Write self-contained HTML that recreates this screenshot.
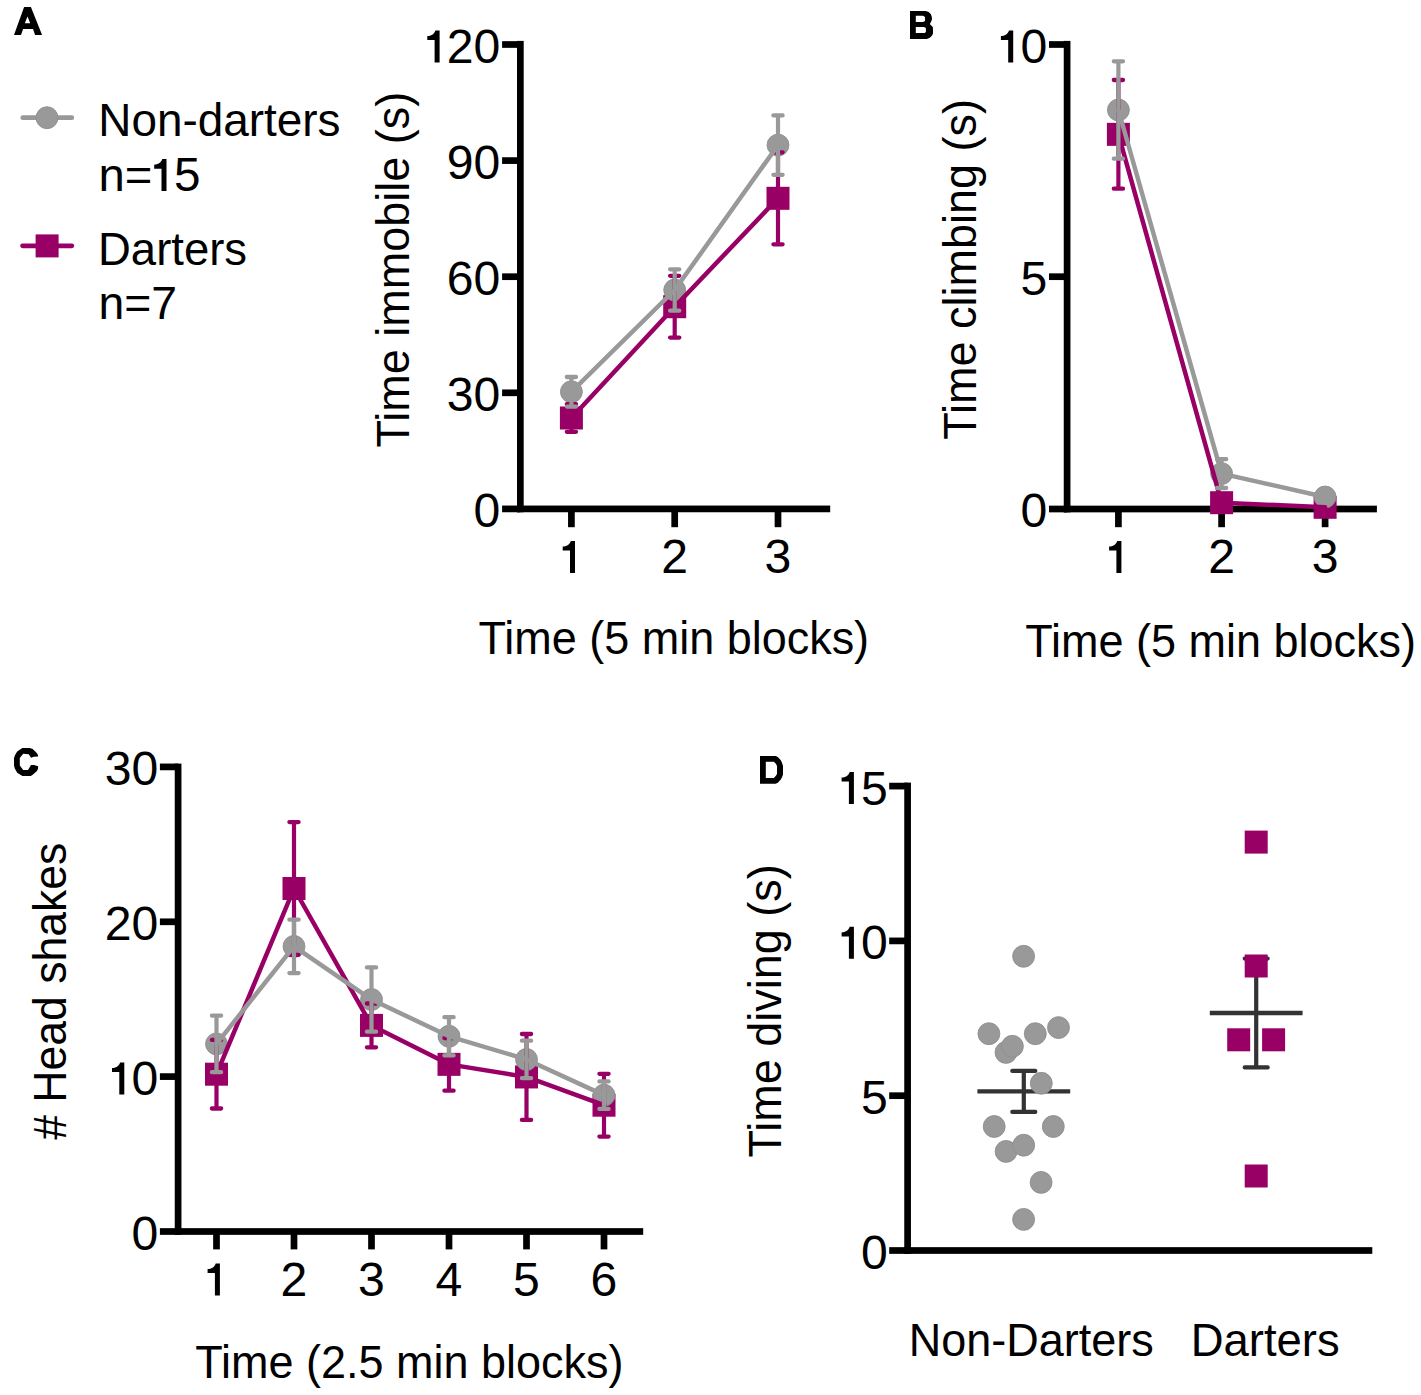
<!DOCTYPE html>
<html><head><meta charset="utf-8"><style>
html,body{margin:0;padding:0;background:#fff;}
svg{display:block;}
text{font-family:"Liberation Sans",sans-serif;fill:#000;}
</style></head><body>
<svg width="1421" height="1395" viewBox="0 0 1421 1395" font-family="Liberation Sans, sans-serif">
<rect width="1421" height="1395" fill="#fff"/>
<rect x="517" y="40.9" width="6.7" height="471.35" fill="#000"/>
<rect x="517" y="505.55" width="313.2" height="6.7" fill="#000"/>
<rect x="502.1" y="41.15" width="18.25" height="6.7" fill="#000"/>
<rect x="502.1" y="157.25" width="18.25" height="6.7" fill="#000"/>
<rect x="502.1" y="273.35" width="18.25" height="6.7" fill="#000"/>
<rect x="502.1" y="389.45" width="18.25" height="6.7" fill="#000"/>
<rect x="502.1" y="505.55" width="18.25" height="6.7" fill="#000"/>
<rect x="568.05" y="508.9" width="6.7" height="18.3" fill="#000"/>
<rect x="671.35" y="508.9" width="6.7" height="18.3" fill="#000"/>
<rect x="774.65" y="508.9" width="6.7" height="18.3" fill="#000"/>
<text transform="translate(500.3,62.9) scale(1.07,1.05)" font-size="45" text-anchor="end">20</text>
<text transform="translate(500.3,179) scale(1.07,1.05)" font-size="45" text-anchor="end">90</text>
<text transform="translate(500.3,295.1) scale(1.07,1.05)" font-size="45" text-anchor="end">60</text>
<text transform="translate(500.3,411.2) scale(1.07,1.05)" font-size="45" text-anchor="end">30</text>
<text transform="translate(500.3,527.3) scale(1.07,1.05)" font-size="45" text-anchor="end">0</text>
<path transform="translate(434.6,30.4)" d="M0.8,0H5V32H0V9.6H-7.3V5.6C-3.5,5.4 -0.6,4 0.8,0Z"/>
<path transform="translate(570,540.9)" d="M0.8,0H5V32H0V9.6H-7.3V5.6C-3.5,5.4 -0.6,4 0.8,0Z"/>
<text transform="translate(674.7,572.9) scale(1.07,1.05)" font-size="45" text-anchor="middle">2</text>
<text transform="translate(778,572.9) scale(1.07,1.05)" font-size="45" text-anchor="middle">3</text>
<text transform="translate(478.41,654.3) scale(1,1.03)" font-size="45">Time (5 min blocks)</text>
<text transform="translate(408.5,447.49) rotate(-90) scale(1,1.03)" font-size="45">Time immobile (s)</text>
<rect x="1063.75" y="40.9" width="6.7" height="471.45" fill="#000"/>
<rect x="1063.75" y="505.65" width="313.15" height="6.7" fill="#000"/>
<rect x="1049" y="41.15" width="18.1" height="6.7" fill="#000"/>
<rect x="1049" y="273.35" width="18.1" height="6.7" fill="#000"/>
<rect x="1049" y="505.65" width="18.1" height="6.7" fill="#000"/>
<rect x="1115.05" y="509" width="6.7" height="18.2" fill="#000"/>
<rect x="1218.25" y="509" width="6.7" height="18.2" fill="#000"/>
<rect x="1321.75" y="509" width="6.7" height="18.2" fill="#000"/>
<text transform="translate(1047.2,62.9) scale(1.07,1.05)" font-size="45" text-anchor="end">0</text>
<text transform="translate(1047.2,295.1) scale(1.07,1.05)" font-size="45" text-anchor="end">5</text>
<text transform="translate(1047.2,527.4) scale(1.07,1.05)" font-size="45" text-anchor="end">0</text>
<path transform="translate(1008.2,30.4)" d="M0.8,0H5V32H0V9.6H-7.3V5.6C-3.5,5.4 -0.6,4 0.8,0Z"/>
<path transform="translate(1116.4,541)" d="M0.8,0H5V32H0V9.6H-7.3V5.6C-3.5,5.4 -0.6,4 0.8,0Z"/>
<text transform="translate(1221.6,573) scale(1.07,1.05)" font-size="45" text-anchor="middle">2</text>
<text transform="translate(1325.1,573) scale(1.07,1.05)" font-size="45" text-anchor="middle">3</text>
<text transform="translate(1025.31,656.7) scale(1,1.03)" font-size="45">Time (5 min blocks)</text>
<text transform="translate(976.3,439.79) rotate(-90) scale(1,1.03)" font-size="45">Time climbing (s)</text>
<rect x="174.75" y="763.6" width="6.7" height="471.25" fill="#000"/>
<rect x="174.75" y="1228.15" width="468.45" height="6.7" fill="#000"/>
<rect x="159.9" y="763.55" width="18.2" height="6.7" fill="#000"/>
<rect x="159.9" y="918.45" width="18.2" height="6.7" fill="#000"/>
<rect x="159.9" y="1073.25" width="18.2" height="6.7" fill="#000"/>
<rect x="159.9" y="1228.15" width="18.2" height="6.7" fill="#000"/>
<rect x="213.15" y="1231.5" width="6.7" height="17.9" fill="#000"/>
<rect x="290.65" y="1231.5" width="6.7" height="17.9" fill="#000"/>
<rect x="368.15" y="1231.5" width="6.7" height="17.9" fill="#000"/>
<rect x="445.65" y="1231.5" width="6.7" height="17.9" fill="#000"/>
<rect x="523.15" y="1231.5" width="6.7" height="17.9" fill="#000"/>
<rect x="600.65" y="1231.5" width="6.7" height="17.9" fill="#000"/>
<text transform="translate(158.2,785.3) scale(1.07,1.05)" font-size="45" text-anchor="end">30</text>
<text transform="translate(158.2,940.2) scale(1.07,1.05)" font-size="45" text-anchor="end">20</text>
<text transform="translate(158.2,1095) scale(1.07,1.05)" font-size="45" text-anchor="end">0</text>
<text transform="translate(158.2,1249.9) scale(1.07,1.05)" font-size="45" text-anchor="end">0</text>
<path transform="translate(119.3,1062.5)" d="M0.8,0H5V32H0V9.6H-7.3V5.6C-3.5,5.4 -0.6,4 0.8,0Z"/>
<path transform="translate(214.9,1263.5)" d="M0.8,0H5V32H0V9.6H-7.3V5.6C-3.5,5.4 -0.6,4 0.8,0Z"/>
<text transform="translate(294,1295.5) scale(1.07,1.05)" font-size="45" text-anchor="middle">2</text>
<text transform="translate(371.5,1295.5) scale(1.07,1.05)" font-size="45" text-anchor="middle">3</text>
<text transform="translate(449,1295.5) scale(1.07,1.05)" font-size="45" text-anchor="middle">4</text>
<text transform="translate(526.5,1295.5) scale(1.07,1.05)" font-size="45" text-anchor="middle">5</text>
<text transform="translate(604,1295.5) scale(1.07,1.05)" font-size="45" text-anchor="middle">6</text>
<text transform="translate(195.31,1378.4) scale(1,1.03)" font-size="45">Time (2.5 min blocks)</text>
<text transform="translate(65.8,1139.78) rotate(-90) scale(0.99,1.03)" font-size="45"># Head shakes</text>
<rect x="904.25" y="782.6" width="6.7" height="471.25" fill="#000"/>
<rect x="904.25" y="1247.15" width="468.05" height="6.7" fill="#000"/>
<rect x="889.2" y="782.75" width="18.4" height="6.7" fill="#000"/>
<rect x="889.2" y="937.55" width="18.4" height="6.7" fill="#000"/>
<rect x="889.2" y="1092.35" width="18.4" height="6.7" fill="#000"/>
<rect x="889.2" y="1247.15" width="18.4" height="6.7" fill="#000"/>
<text transform="translate(887.9,804.5) scale(1.07,1.05)" font-size="45" text-anchor="end">5</text>
<text transform="translate(887.9,959.3) scale(1.07,1.05)" font-size="45" text-anchor="end">0</text>
<text transform="translate(887.9,1114.1) scale(1.07,1.05)" font-size="45" text-anchor="end">5</text>
<text transform="translate(887.9,1268.9) scale(1.07,1.05)" font-size="45" text-anchor="end">0</text>
<path transform="translate(848.9,772)" d="M0.8,0H5V32H0V9.6H-7.3V5.6C-3.5,5.4 -0.6,4 0.8,0Z"/>
<path transform="translate(848.9,926.8)" d="M0.8,0H5V32H0V9.6H-7.3V5.6C-3.5,5.4 -0.6,4 0.8,0Z"/>
<text transform="translate(908.79,1355.9) scale(1,1.03)" font-size="45">Non-Darters</text>
<text transform="translate(1190.68,1355.8) scale(1.01,1.03)" font-size="45">Darters</text>
<text transform="translate(781.2,1157.49) rotate(-90) scale(1,1.03)" font-size="45">Time diving (s)</text>
<path d="M22.75,117.7H71.85" stroke="#999999" stroke-width="4.7" stroke-linecap="round"/>
<circle cx="47" cy="117.7" r="10.95" fill="#999999" stroke="#8e8e8e" stroke-width="0.9"/>
<path d="M22.55,245.8H71.85" stroke="#990066" stroke-width="4.7" stroke-linecap="round"/>
<rect x="35.6" y="234.4" width="23" height="23" fill="#990066"/>
<text transform="translate(98.25,136.4) scale(1.02,1.03)" font-size="45">Non-darters</text>
<text transform="translate(98.58,191.2) scale(1.05,1.03)" font-size="45">n=</text>
<path transform="translate(161.5,159.1)" d="M0.8,0H5V32H0V9.6H-7.3V5.6C-3.5,5.4 -0.6,4 0.8,0Z"/>
<text transform="translate(174.09,191.2) scale(1.06,1.05)" font-size="45">5</text>
<text transform="translate(98.06,264.9) scale(1.01,1.03)" font-size="45">Darters</text>
<text transform="translate(98.45,318.9) scale(1.03,1.03)" font-size="45">n=7</text>
<path fill-rule="evenodd" d="M24.1,7H30.9L42.1,35H35.1L33,29.1H23.1L21,35H14ZM27.5,16.6L24.8,23.2H30.2Z"/>
<path fill-rule="evenodd" d="M910,11H925.7L928.7,12L930.9,14.2L931.9,17.2V19.8L930.6,22.8L929.8,24.1L932.8,27.1L933,30V33.5L931.9,35.7L929.8,37.8L926.8,38.9H910Z M915.8,15.8H922.9L925.05,17V21.1L922.9,21.9H915.8Z M915.8,26.9H924L925.9,28V32L924.8,33H915.8Z"/>
<path d="M22.4,748H29.7L32.7,749L37,753.3L38.1,755.5V756.6L33.8,756.8L31,757.8L28.8,754.2L23.2,753.8L19.8,758.1V765.4L23.2,769.9H28L31,764.9H34L38.1,766.2V768.4L37,771L32.7,774.8L30.8,775.9H22.4L17.2,772.7L14.8,768.4L14,765.4V758.1L15.1,755.1L17.2,751.4Z"/>
<path fill-rule="evenodd" d="M760,756H775.7L777.8,757.1L780.6,760.1L781.9,762.5L783,765.9V774.5L781.9,777.5L780.6,779.7L777.8,782.7L775.7,783.8H760Z M765.8,761.8H773.8L775.9,763.8L777,765.9V773.9L775.9,775.8L773.8,778H765.8Z"/>
<rect x="559.9" y="406.5" width="23" height="23" fill="#990066"/>
<rect x="663.2" y="295.2" width="23" height="23" fill="#990066"/>
<rect x="766.5" y="186.8" width="23" height="23" fill="#990066"/>
<circle cx="571.4" cy="391.8" r="10.95" fill="#999999" stroke="#8e8e8e" stroke-width="0.9"/>
<circle cx="674.7" cy="290" r="10.95" fill="#999999" stroke="#8e8e8e" stroke-width="0.9"/>
<circle cx="778" cy="145.1" r="10.95" fill="#999999" stroke="#8e8e8e" stroke-width="0.9"/>
<polyline points="571.4,418 674.7,306.7 778,198.3" fill="none" stroke="#990066" stroke-width="4.5" stroke-linejoin="round" stroke-linecap="round"/>
<path d="M571.4,404.2V431.8" stroke="#990066" stroke-width="4.2" fill="none"/>
<path d="M566.8,404.2H576M566.8,431.8H576" stroke="#990066" stroke-width="4.3" stroke-linecap="round" fill="none"/>
<path d="M674.7,275.8V337.6" stroke="#990066" stroke-width="4.2" fill="none"/>
<path d="M670.1,275.8H679.3M670.1,337.6H679.3" stroke="#990066" stroke-width="4.3" stroke-linecap="round" fill="none"/>
<path d="M778,152.3V244.3" stroke="#990066" stroke-width="4.2" fill="none"/>
<path d="M773.4,152.3H782.6M773.4,244.3H782.6" stroke="#990066" stroke-width="4.3" stroke-linecap="round" fill="none"/>
<polyline points="571.4,391.8 674.7,290 778,145.1" fill="none" stroke="#999999" stroke-width="4.5" stroke-linejoin="round" stroke-linecap="round"/>
<path d="M571.4,377V406.6" stroke="#999999" stroke-width="4.2" fill="none"/>
<path d="M566.8,377H576M566.8,406.6H576" stroke="#999999" stroke-width="4.3" stroke-linecap="round" fill="none"/>
<path d="M674.7,269.3V310.7" stroke="#999999" stroke-width="4.2" fill="none"/>
<path d="M670.1,269.3H679.3M670.1,310.7H679.3" stroke="#999999" stroke-width="4.3" stroke-linecap="round" fill="none"/>
<path d="M778,115.4V174.8" stroke="#999999" stroke-width="4.2" fill="none"/>
<path d="M773.4,115.4H782.6M773.4,174.8H782.6" stroke="#999999" stroke-width="4.3" stroke-linecap="round" fill="none"/>
<rect x="1106.9" y="122.85" width="23" height="23" fill="#990066"/>
<rect x="1210.1" y="491.2" width="23" height="23" fill="#990066"/>
<rect x="1313.6" y="495.8" width="23" height="23" fill="#990066"/>
<circle cx="1118.4" cy="110" r="10.95" fill="#999999" stroke="#8e8e8e" stroke-width="0.9"/>
<circle cx="1221.6" cy="473.6" r="10.95" fill="#999999" stroke="#8e8e8e" stroke-width="0.9"/>
<circle cx="1325.1" cy="497" r="10.95" fill="#999999" stroke="#8e8e8e" stroke-width="0.9"/>
<polyline points="1118.4,134.35 1221.6,502.7 1325.1,507.3" fill="none" stroke="#990066" stroke-width="4.5" stroke-linejoin="round" stroke-linecap="round"/>
<path d="M1118.4,80V188.7" stroke="#990066" stroke-width="4.2" fill="none"/>
<path d="M1113.8,80H1123M1113.8,188.7H1123" stroke="#990066" stroke-width="4.3" stroke-linecap="round" fill="none"/>
<polyline points="1118.4,110 1221.6,473.6 1325.1,497" fill="none" stroke="#999999" stroke-width="4.5" stroke-linejoin="round" stroke-linecap="round"/>
<path d="M1118.4,61.3V158.7" stroke="#999999" stroke-width="4.2" fill="none"/>
<path d="M1113.8,61.3H1123M1113.8,158.7H1123" stroke="#999999" stroke-width="4.3" stroke-linecap="round" fill="none"/>
<path d="M1221.6,459.2V488" stroke="#999999" stroke-width="4.2" fill="none"/>
<path d="M1217,459.2H1226.2M1217,488H1226.2" stroke="#999999" stroke-width="4.3" stroke-linecap="round" fill="none"/>
<rect x="205" y="1062.7" width="23" height="23" fill="#990066"/>
<rect x="282.5" y="877" width="23" height="23" fill="#990066"/>
<rect x="360" y="1013.9" width="23" height="23" fill="#990066"/>
<rect x="437.5" y="1052.85" width="23" height="23" fill="#990066"/>
<rect x="515" y="1065.45" width="23" height="23" fill="#990066"/>
<rect x="592.5" y="1093.7" width="23" height="23" fill="#990066"/>
<circle cx="216.5" cy="1043.9" r="10.95" fill="#999999" stroke="#8e8e8e" stroke-width="0.9"/>
<circle cx="294" cy="946.4" r="10.95" fill="#999999" stroke="#8e8e8e" stroke-width="0.9"/>
<circle cx="371.5" cy="999.55" r="10.95" fill="#999999" stroke="#8e8e8e" stroke-width="0.9"/>
<circle cx="449" cy="1036.3" r="10.95" fill="#999999" stroke="#8e8e8e" stroke-width="0.9"/>
<circle cx="526.5" cy="1059.45" r="10.95" fill="#999999" stroke="#8e8e8e" stroke-width="0.9"/>
<circle cx="604" cy="1095.15" r="10.95" fill="#999999" stroke="#8e8e8e" stroke-width="0.9"/>
<polyline points="216.5,1074.2 294,888.5 371.5,1025.4 449,1064.35 526.5,1076.95 604,1105.2" fill="none" stroke="#990066" stroke-width="4.5" stroke-linejoin="round" stroke-linecap="round"/>
<path d="M216.5,1039.9V1108.5" stroke="#990066" stroke-width="4.2" fill="none"/>
<path d="M211.9,1039.9H221.1M211.9,1108.5H221.1" stroke="#990066" stroke-width="4.3" stroke-linecap="round" fill="none"/>
<path d="M294,822.1V954.9" stroke="#990066" stroke-width="4.2" fill="none"/>
<path d="M289.4,822.1H298.6M289.4,954.9H298.6" stroke="#990066" stroke-width="4.3" stroke-linecap="round" fill="none"/>
<path d="M371.5,1003.5V1047.3" stroke="#990066" stroke-width="4.2" fill="none"/>
<path d="M366.9,1003.5H376.1M366.9,1047.3H376.1" stroke="#990066" stroke-width="4.3" stroke-linecap="round" fill="none"/>
<path d="M449,1038V1090.7" stroke="#990066" stroke-width="4.2" fill="none"/>
<path d="M444.4,1038H453.6M444.4,1090.7H453.6" stroke="#990066" stroke-width="4.3" stroke-linecap="round" fill="none"/>
<path d="M526.5,1034V1119.9" stroke="#990066" stroke-width="4.2" fill="none"/>
<path d="M521.9,1034H531.1M521.9,1119.9H531.1" stroke="#990066" stroke-width="4.3" stroke-linecap="round" fill="none"/>
<path d="M604,1073.8V1136.6" stroke="#990066" stroke-width="4.2" fill="none"/>
<path d="M599.4,1073.8H608.6M599.4,1136.6H608.6" stroke="#990066" stroke-width="4.3" stroke-linecap="round" fill="none"/>
<polyline points="216.5,1043.9 294,946.4 371.5,999.55 449,1036.3 526.5,1059.45 604,1095.15" fill="none" stroke="#999999" stroke-width="4.5" stroke-linejoin="round" stroke-linecap="round"/>
<path d="M216.5,1015.6V1072.2" stroke="#999999" stroke-width="4.2" fill="none"/>
<path d="M211.9,1015.6H221.1M211.9,1072.2H221.1" stroke="#999999" stroke-width="4.3" stroke-linecap="round" fill="none"/>
<path d="M294,919.7V973.1" stroke="#999999" stroke-width="4.2" fill="none"/>
<path d="M289.4,919.7H298.6M289.4,973.1H298.6" stroke="#999999" stroke-width="4.3" stroke-linecap="round" fill="none"/>
<path d="M371.5,967.45V1031.65" stroke="#999999" stroke-width="4.2" fill="none"/>
<path d="M366.9,967.45H376.1M366.9,1031.65H376.1" stroke="#999999" stroke-width="4.3" stroke-linecap="round" fill="none"/>
<path d="M449,1017.2V1055.4" stroke="#999999" stroke-width="4.2" fill="none"/>
<path d="M444.4,1017.2H453.6M444.4,1055.4H453.6" stroke="#999999" stroke-width="4.3" stroke-linecap="round" fill="none"/>
<path d="M526.5,1040.7V1078.2" stroke="#999999" stroke-width="4.2" fill="none"/>
<path d="M521.9,1040.7H531.1M521.9,1078.2H531.1" stroke="#999999" stroke-width="4.3" stroke-linecap="round" fill="none"/>
<path d="M604,1081.4V1108.9" stroke="#999999" stroke-width="4.2" fill="none"/>
<path d="M599.4,1081.4H608.6M599.4,1108.9H608.6" stroke="#999999" stroke-width="4.3" stroke-linecap="round" fill="none"/>
<path d="M1023.8,1070.9V1111.9" stroke="#333333" stroke-width="4.2" fill="none"/>
<path d="M1012.3,1070.9H1035.3M1012.3,1111.9H1035.3" stroke="#333333" stroke-width="4.2" stroke-linecap="round" fill="none"/>
<path d="M977.4,1091.4H1070.2" stroke="#333333" stroke-width="4.4" fill="none"/>
<path d="M1256.2,958.6V1067.4" stroke="#333333" stroke-width="4.2" fill="none"/>
<path d="M1244.7,958.6H1267.7M1244.7,1067.4H1267.7" stroke="#333333" stroke-width="4.2" stroke-linecap="round" fill="none"/>
<path d="M1209.8,1013H1302.6" stroke="#333333" stroke-width="4.4" fill="none"/>
<circle cx="1023.6" cy="956.3" r="10.95" fill="#999999" stroke="#8e8e8e" stroke-width="0.9"/>
<circle cx="988.9" cy="1033.7" r="10.95" fill="#999999" stroke="#8e8e8e" stroke-width="0.9"/>
<circle cx="1035.3" cy="1033.7" r="10.95" fill="#999999" stroke="#8e8e8e" stroke-width="0.9"/>
<circle cx="1058.5" cy="1027.6" r="10.95" fill="#999999" stroke="#8e8e8e" stroke-width="0.9"/>
<circle cx="1006" cy="1052.4" r="10.95" fill="#999999" stroke="#8e8e8e" stroke-width="0.9"/>
<circle cx="1012.4" cy="1046.3" r="10.95" fill="#999999" stroke="#8e8e8e" stroke-width="0.9"/>
<circle cx="1041.3" cy="1083.3" r="10.95" fill="#999999" stroke="#8e8e8e" stroke-width="0.9"/>
<circle cx="994.2" cy="1126.5" r="10.95" fill="#999999" stroke="#8e8e8e" stroke-width="0.9"/>
<circle cx="1053.3" cy="1126.5" r="10.95" fill="#999999" stroke="#8e8e8e" stroke-width="0.9"/>
<circle cx="1006.1" cy="1151.4" r="10.95" fill="#999999" stroke="#8e8e8e" stroke-width="0.9"/>
<circle cx="1023.7" cy="1145.2" r="10.95" fill="#999999" stroke="#8e8e8e" stroke-width="0.9"/>
<circle cx="1041.1" cy="1182.4" r="10.95" fill="#999999" stroke="#8e8e8e" stroke-width="0.9"/>
<circle cx="1023.6" cy="1219.4" r="10.95" fill="#999999" stroke="#8e8e8e" stroke-width="0.9"/>
<rect x="1244.7" y="830.6" width="23" height="23" fill="#990066"/>
<rect x="1244.7" y="954.5" width="23" height="23" fill="#990066"/>
<rect x="1227.2" y="1028.3" width="23" height="23" fill="#990066"/>
<rect x="1262.1" y="1028.3" width="23" height="23" fill="#990066"/>
<rect x="1244.7" y="1164.5" width="23" height="23" fill="#990066"/>
</svg>
</body></html>
